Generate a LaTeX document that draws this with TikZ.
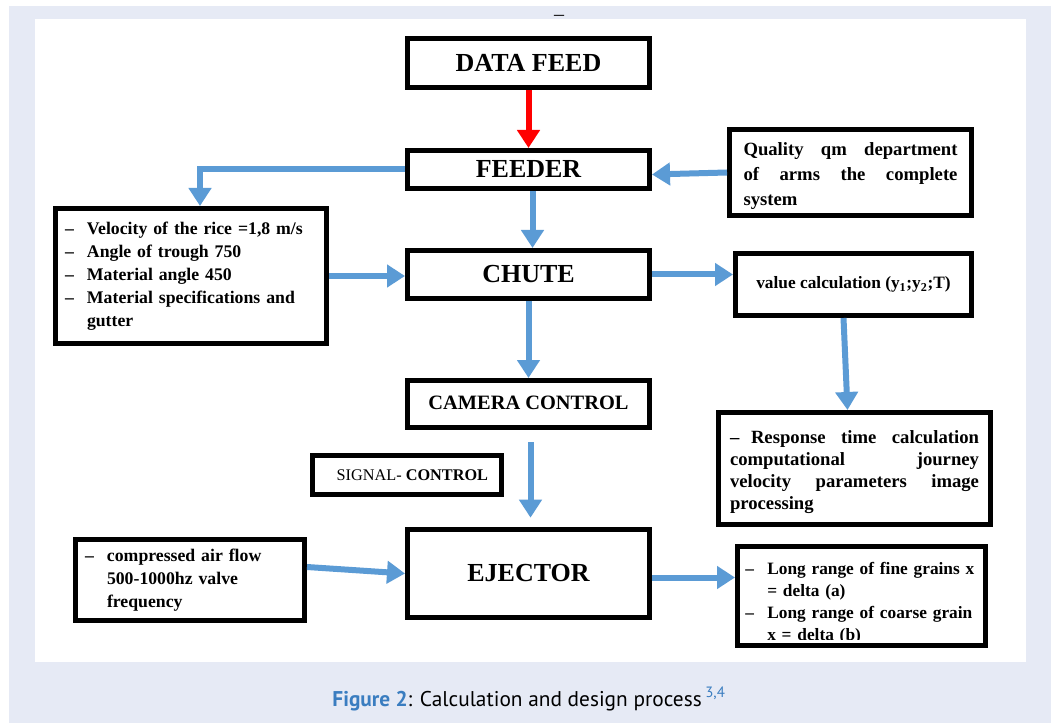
\documentclass[tikz,border=0pt]{standalone}
\usepackage{fontspec}
\setmainfont{Liberation Serif}
\newfontfamily\capfont{PT Sans}
\usetikzlibrary{arrows.meta,calc}
\definecolor{lav}{HTML}{E6EAF5}
\definecolor{arrblue}{HTML}{5B9BD5}
\definecolor{capblue}{HTML}{3A7DC0}
\newcommand\lstitem[1]{\hangindent=16.5pt\hangafter=1\noindent\makebox[16.5pt][l]{--}#1\par}
\begin{document}
\begin{tikzpicture}[x=0.75pt,y=-0.75pt,
  box/.style={draw=black,line width=3.75pt,fill=white,inner sep=0pt,align=center},
  bigtxt/.style={font=\bfseries\fontsize{19.5}{22}\selectfont},
  listtxt/.style={font=\bfseries\fontsize{13.3}{17.25}\selectfont},
  barrow/.style={draw=arrblue,line width=4.5pt,-{Triangle[width=16.5pt,length=13.5pt]}},
  rarrow/.style={draw=red,line width=4.5pt,-{Triangle[width=16.5pt,length=13.5pt]}}]
\useasboundingbox (0,0) rectangle (1059,723);
\fill[lav] (9,6) rectangle (1051,723);
\fill[white] (35,19) rectangle (1026,662);
\node[font=\fontsize{15}{15}\selectfont,inner sep=0pt] (topdash) at (559,18) {--};

% main column
\node[box,bigtxt,minimum width=181.5pt,minimum height=36.75pt] (data) at (528.5,63) {DATA FEED};
\node[box,bigtxt,minimum width=181.5pt,minimum height=28.5pt] (feeder) at (528.5,169.5) {\raisebox{-2.5pt}{FEEDER}};
\node[box,bigtxt,minimum width=181.5pt,minimum height=36pt] (chute) at (528.5,274.5) {CHUTE};
\node[box,font=\bfseries\fontsize{15.3}{18}\selectfont,minimum width=181.5pt,minimum height=35.25pt] (camera) at (528.5,404) {\raisebox{1.5pt}{CAMERA CONTROL}};
\node[box,font=\fontsize{12.2}{15}\selectfont,minimum width=141.75pt,minimum height=29.25pt] (signal) at (407,475) {\hspace*{8pt}SIGNAL- \textbf{CONTROL}};
\node[box,bigtxt,minimum width=181.5pt,minimum height=66pt] (ejector) at (528.5,573.5) {EJECTOR};

% side boxes
\node[box,listtxt,minimum width=203.25pt,minimum height=101.25pt,text width=189pt,align=left] (vel) at (191,276)
  {\lstitem{Velocity of the rice =1,8 m/s}\lstitem{Angle of trough 750}\lstitem{Material angle 450}\lstitem{Material specifications and\newline gutter}};
\node[box,font=\bfseries\fontsize{14}{18.75}\selectfont,minimum width=181.5pt,minimum height=64.5pt,text width=160.5pt,align=justify] (quality) at (850.5,172.5)
  {\rule{0pt}{14.5pt}Quality qm department\linebreak of arms the complete\linebreak system};
\node[box,font=\bfseries\fontsize{13}{15}\selectfont,minimum width=177pt,minimum height=46.5pt] (value) at (853.5,284.5)
  {\raisebox{2.5pt}{value calculation (y\textsubscript{1};y\textsubscript{2};T)}};
\node[box,font=\bfseries\fontsize{14}{16.5}\selectfont,minimum width=204pt,minimum height=84pt,text width=186.75pt,align=justify] (resp) at (854.5,468.5)
  {\hangindent=15.75pt\hangafter=1\noindent\rule{0pt}{14.5pt}\makebox[15.75pt][l]{--}Response time calculation\linebreak computational journey\linebreak velocity parameters image\linebreak processing};
\node[box,listtxt,minimum width=171.75pt,minimum height=60.75pt,text width=157.5pt,align=left] (air) at (190,580)
  {\lstitem{compressed air flow\newline 500-1000hz valve\newline frequency}};
\node[box,minimum width=186pt,minimum height=74.25pt] (long) at (861.5,596) {};
\begin{scope}
  \clip ([shift={(5,5)}]long.north west) rectangle ([shift={(-5,-9)}]long.south east);
  \node[font=\bfseries\fontsize{13}{16.5}\selectfont,text width=200pt,align=left,anchor=north west,inner sep=0pt] (longtxt) at (745,562)
    {\lstitem{Long range of fine grains x\newline = delta (a)}\lstitem{Long range of coarse grain\newline x = delta (b)}};
\end{scope}

% connectors
\draw[rarrow] (data.south) -- (feeder.north);
\draw[barrow] (feeder.west) -| ($(vel.north)+(9,0)$);
\draw[barrow] (quality.west) -- ($(feeder.east)+(0,5)$);
\draw[barrow] ($(feeder.south)+(4,0)$) -- ($(chute.north)+(4,0)$);
\draw[barrow] (vel.east) -- (vel.east -| chute.west);
\draw[barrow] (chute.east) -- (chute.east -| value.west);
\draw[barrow] (chute.south) -- (camera.north);
\draw[barrow] ($(value.south)+(-10,0)$) -- ($(resp.north)+(-7,0)$);
\draw[barrow,shorten <=9pt,shorten >=7pt] ($(camera.south)+(2,0)$) -- ($(ejector.north)+(2,0)$);
\draw[barrow] ($(air.east)+(0,-13)$) -- (ejector.west);
\coordinate (ej) at ($(ejector.east)+(0,4)$);
\draw[barrow] (ej) -- (ej -| long.west);

% caption
\node[font=\capfont\fontsize{16}{20}\selectfont] (cap) at (529,699)
  {\textcolor{capblue}{\textbf{Figure 2}}: Calculation and design process\,\textsuperscript{\textcolor{capblue}{3,4}}};
\end{tikzpicture}
\end{document}
